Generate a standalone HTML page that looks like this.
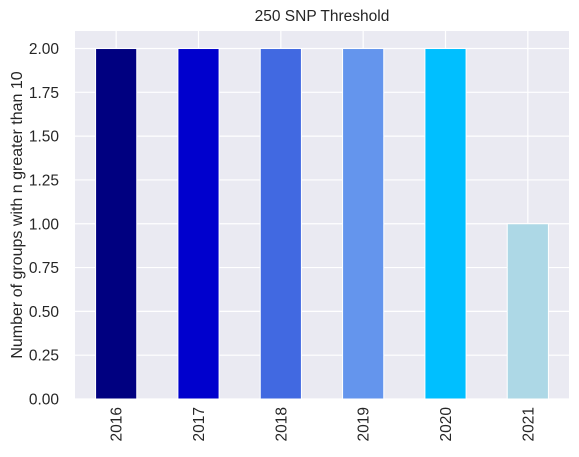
<!DOCTYPE html>
<html><head><meta charset="utf-8"><style>
body{margin:0;background:#fff;}
svg{display:block;font-family:"Liberation Sans",sans-serif;}
</style></head><body>
<svg id="c" width="579" height="457"></svg>
<script>
const categories=["2016","2017","2018","2019","2020","2021"];
const values=[2,2,2,2,2,1];
const colors=["#000080","#0000cd","#4169e1","#6495ed","#00bfff","#add8e6"];
const yTicks=[0,0.25,0.5,0.75,1,1.25,1.5,1.75,2];
const yTickLabels=["0.00","0.25","0.50","0.75","1.00","1.25","1.50","1.75","2.00"];
const NS="http://www.w3.org/2000/svg";
const svg=document.getElementById('c');
const L=75,R=569,T=31,B=399,yMax=2.1;
const y=v=>B-(v/yMax)*(B-T);
const slot=(R-L)/categories.length;
const x=i=>L+slot*(i+0.5);
function mk(t,a,p){const e=document.createElementNS(NS,t);for(const k in a)e.setAttribute(k,a[k]);(p||svg).appendChild(e);return e;}
const bg=mk('rect',{x:L,y:T,width:R-L,height:B-T,fill:'#eaeaf2'});


yTicks.forEach((t,i)=>{
 const g=mk('line',{x1:L,x2:R,y1:y(t),y2:y(t),stroke:'#fff','stroke-width':1.2});
 
 
 const tx=mk('text',{x:L-16,y:y(t)+5.5,'text-anchor':'end','font-size':15.5,fill:'#262626'});
 tx.textContent=yTickLabels[i];
 
 
});
categories.forEach((c,i)=>{
 const g=mk('line',{x1:x(i),x2:x(i),y1:T,y2:B,stroke:'#fff','stroke-width':1.2});
 
 
});
categories.forEach((c,i)=>{
 const w=slot*0.5;
 const r=mk('rect',{x:x(i)-w/2,y:y(values[i]),width:w,height:B-y(values[i]),fill:colors[i],stroke:'#fff','stroke-width':1});
 
 
 const tx=mk('text',{transform:`translate(${x(i)+5.5},${B+8}) rotate(-90)`,'text-anchor':'end','font-size':15.5,fill:'#262626'});
 tx.textContent=c;
 
 
});
const t=mk('text',{x:(L+R)/2,y:21,'text-anchor':'middle','font-size':15.5,fill:'#262626'});
t.textContent='250 SNP Threshold';


const yl=mk('text',{transform:`translate(22,${(T+B)/2}) rotate(-90)`,'text-anchor':'middle','font-size':16,fill:'#262626'});
yl.textContent='Number of groups with n greater than 10';


</script>
</body></html>
